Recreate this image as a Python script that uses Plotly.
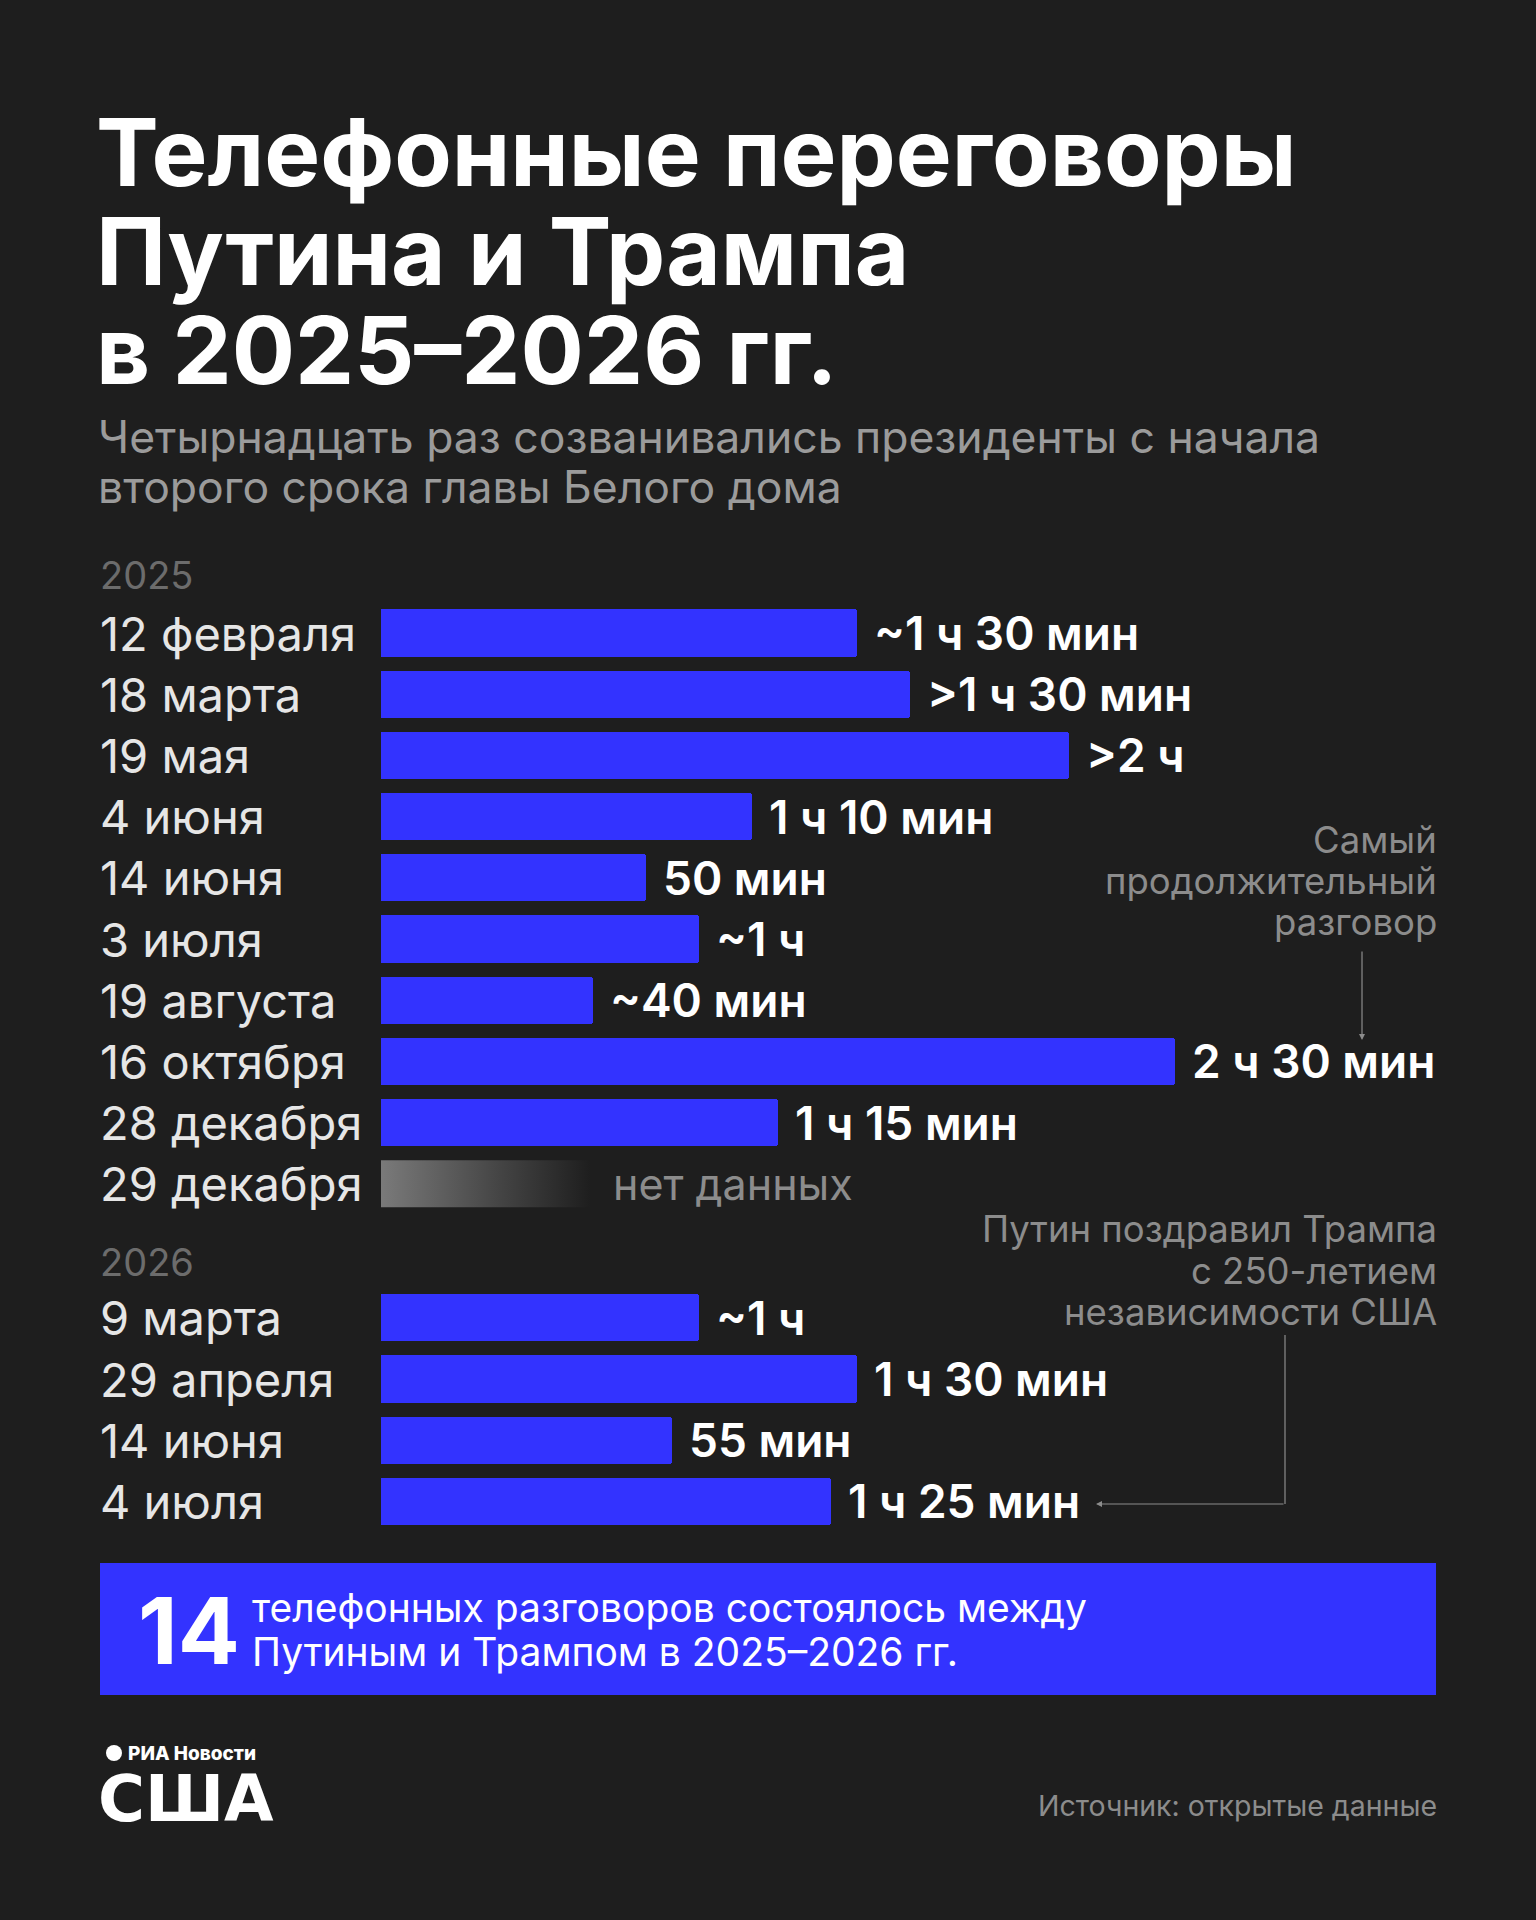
import plotly.graph_objects as go

# ---------------- data ----------------
years = ["2025", "2026"]

dates_2025 = ["12 февраля", "18 марта", "19 мая", "4 июня", "14 июня", "3 июля",
              "19 августа", "16 октября", "28 декабря", "29 декабря"]
minutes_2025 = [90, 100, 130, 70, 50, 60, 40, 150, 75, None]
labels_2025 = ["~1 ч 30 мин", ">1 ч 30 мин", ">2 ч", "1 ч 10 мин", "50 мин", "~1 ч",
               "~40 мин", "2 ч 30 мин", "1 ч 15 мин", "нет данных"]

dates_2026 = ["9 марта", "29 апреля", "14 июня", "4 июля"]
minutes_2026 = [60, 90, 55, 85]
labels_2026 = ["~1 ч", "1 ч 30 мин", "55 мин", "1 ч 25 мин"]

nodata_placeholder = 39.5   # length of the faded "no data" placeholder bar (min-equivalent)

title_lines = ["Телефонные переговоры", "Путина и Трампа", "в 2025–2026 гг."]
subtitle_lines = ["Четырнадцать раз созванивались президенты с начала",
                  "второго срока главы Белого дома"]
note_longest = ["Самый", "продолжительный", "разговор"]
note_july = ["Путин поздравил Трампа", "с 250-летием", "независимости США"]
total_calls = "14"
total_text = ["телефонных разговоров состоялось между", "Путиным и Трампом в 2025–2026 гг."]
source_text = "Источник: открытые данные"

# ---------------- layout constants ----------------
W, H = 1536, 1920
BG = "#1e1e1e"
BLUE = "#3333ff"
WHITE = "#ffffff"
LABEL = "#e6e6e6"
GREY = "#8c8c8c"
YEAR_GREY = "#6c6c6c"
FONT = "Inter"

X0_PX = 381          # pixel where the bars start
PX_PER_MIN = 5.293   # horizontal scale
Y0_PX = 633          # pixel center of the first row
ROW_PX = 61.2        # row pitch
GROUP_GAP = 1.19     # extra rows between the year groups
HEADER_OFF = -0.94   # year header offset from first row of its group


def px(x):
    return x / W


def py(y):
    return 1 - y / H


pos_2025 = list(range(len(dates_2025)))
pos_2026 = [len(dates_2025) + GROUP_GAP + i for i in range(len(dates_2026))]
year_pos = [pos_2025[0] + HEADER_OFF, pos_2026[0] + HEADER_OFF + 0.02]

all_dates = dates_2025 + dates_2026
all_minutes = minutes_2025 + minutes_2026
all_labels = labels_2025 + labels_2026
all_pos = pos_2025 + pos_2026

fig = go.Figure()

bar_pos = [p for p, m in zip(all_pos, all_minutes) if m is not None]
bar_min = [m for m in all_minutes if m is not None]
fig.add_trace(go.Bar(
    x=bar_min, y=bar_pos, orientation="h", width=0.77,
    marker=dict(color=BLUE, line=dict(width=0), cornerradius=3),
    hoverinfo="skip", showlegend=False,
))

# faded placeholder bar for the call without data
for p, m in zip(all_pos, all_minutes):
    if m is None:
        fig.add_trace(go.Scatter(
            x=[0, nodata_placeholder, nodata_placeholder, 0, 0],
            y=[p - 0.385, p - 0.385, p + 0.385, p + 0.385, p - 0.385],
            mode="lines", fill="toself", line=dict(width=0),
            fillgradient=dict(type="horizontal",
                              colorscale=[[0, "#7a7a7a"], [0.55, "#464646"], [1, BG]]),
            hoverinfo="skip", showlegend=False,
        ))

annotations = []

# row labels and value labels
for d, m, lab, p in zip(all_dates, all_minutes, all_labels, all_pos):
    annotations.append(dict(
        text=d, x=px(98), xref="paper", y=p, yref="y", xanchor="left", yanchor="middle",
        showarrow=False, font=dict(family=FONT, size=47, color=LABEL)))
    if m is None:
        annotations.append(dict(
            text=lab, x=nodata_placeholder, xref="x", y=p, yref="y", xanchor="left",
            yanchor="middle", xshift=21, showarrow=False,
            font=dict(family=FONT, size=43, color=GREY)))
    else:
        annotations.append(dict(
            text=lab, x=m, xref="x", y=p, yref="y", xanchor="left", yanchor="middle",
            xshift=15, showarrow=False,
            font=dict(family=FONT, size=46, color=WHITE, weight=600)))

# year headers
for yr, p in zip(years, year_pos):
    annotations.append(dict(
        text=yr, x=px(98), xref="paper", y=p, yref="y", xanchor="left", yanchor="middle",
        showarrow=False, font=dict(family=FONT, size=38, color=YEAR_GREY)))

# title
for i, t in enumerate(title_lines):
    annotations.append(dict(
        text=t, x=px(94), y=py(152 + i * 99), xref="paper", yref="paper",
        xanchor="left", yanchor="middle", showarrow=False,
        font=dict(family=FONT, size=94, color=WHITE, weight=700)))

# subtitle
for i, t in enumerate(subtitle_lines):
    annotations.append(dict(
        text=t, x=px(96), y=py(437 + i * 50), xref="paper", yref="paper",
        xanchor="left", yanchor="middle", showarrow=False,
        font=dict(family=FONT, size=44.5, color="#9b9b9b")))

# side notes
for i, t in enumerate(note_longest):
    annotations.append(dict(
        text=t, x=px(1439), y=py(840 + i * 41), xref="paper", yref="paper",
        xanchor="right", yanchor="middle", showarrow=False,
        font=dict(family=FONT, size=36.5, color=GREY)))
for i, t in enumerate(note_july):
    annotations.append(dict(
        text=t, x=px(1439), y=py(1229 + i * 41.5), xref="paper", yref="paper",
        xanchor="right", yanchor="middle", showarrow=False,
        font=dict(family=FONT, size=36.5, color=GREY)))

# arrows
annotations.append(dict(
    text="", x=px(1362), y=py(1040), xref="paper", yref="paper",
    ax=0, ay=-90, axref="pixel", ayref="pixel", showarrow=True,
    arrowhead=2, arrowsize=1, arrowwidth=1.2, arrowcolor=GREY))
annotations.append(dict(
    text="", x=px(1096), y=py(1504), xref="paper", yref="paper",
    ax=189, ay=0, showarrow=True,
    arrowhead=2, arrowsize=1, arrowwidth=1.2, arrowcolor=GREY))

# summary box text
annotations.append(dict(
    text=total_calls, x=px(136), y=py(1630), xref="paper", yref="paper",
    xanchor="left", yanchor="middle", showarrow=False,
    font=dict(family=FONT, size=92, color=WHITE, weight=700)))
for i, t in enumerate(total_text):
    annotations.append(dict(
        text=t, x=px(250), y=py(1607 + i * 44), xref="paper", yref="paper",
        xanchor="left", yanchor="middle", showarrow=False,
        font=dict(family=FONT, size=39, color=WHITE)))

# logo
annotations.append(dict(
    text="РИА Новости", x=px(126), y=py(1753), xref="paper", yref="paper",
    xanchor="left", yanchor="middle", showarrow=False,
    font=dict(family=FONT, size=19, color=WHITE, weight=800)))
annotations.append(dict(
    text="США", x=px(96), y=py(1799), xref="paper", yref="paper",
    xanchor="left", yanchor="middle", showarrow=False,
    font=dict(family="DejaVu Sans", size=64, color=WHITE, weight=700)))

# source
annotations.append(dict(
    text=source_text, x=px(1439), y=py(1805), xref="paper", yref="paper",
    xanchor="right", yanchor="middle", showarrow=False,
    font=dict(family=FONT, size=28.5, color=GREY)))

shapes = [
    dict(type="line", xref="paper", yref="paper", x0=px(1285), x1=px(1285),
         y0=py(1335), y1=py(1504), line=dict(color=GREY, width=1.2)),
    dict(type="rect", xref="paper", yref="paper", x0=px(100), x1=px(1436),
         y0=py(1695), y1=py(1563), fillcolor=BLUE, line=dict(width=0), layer="below"),
    dict(type="circle", xref="paper", yref="paper", x0=px(106), x1=px(122),
         y0=py(1761), y1=py(1745), fillcolor=WHITE, line=dict(width=0)),
]

fig.update_layout(
    width=W, height=H,
    paper_bgcolor=BG, plot_bgcolor=BG,
    margin=dict(l=0, r=0, t=0, b=0),
    xaxis=dict(domain=[px(X0_PX), 1], range=[0, (W - X0_PX) / PX_PER_MIN],
               visible=False, fixedrange=True),
    yaxis=dict(domain=[0, 1], range=[(H - Y0_PX) / ROW_PX, -Y0_PX / ROW_PX],
               visible=False, fixedrange=True),
    annotations=annotations,
    shapes=shapes,
    showlegend=False,
    bargap=0,
)

fig.write_html(
    "out.html",
    config={"displayModeBar": False},
    post_script="document.body.style.margin='0';document.body.style.background='#1e1e1e';",
)
